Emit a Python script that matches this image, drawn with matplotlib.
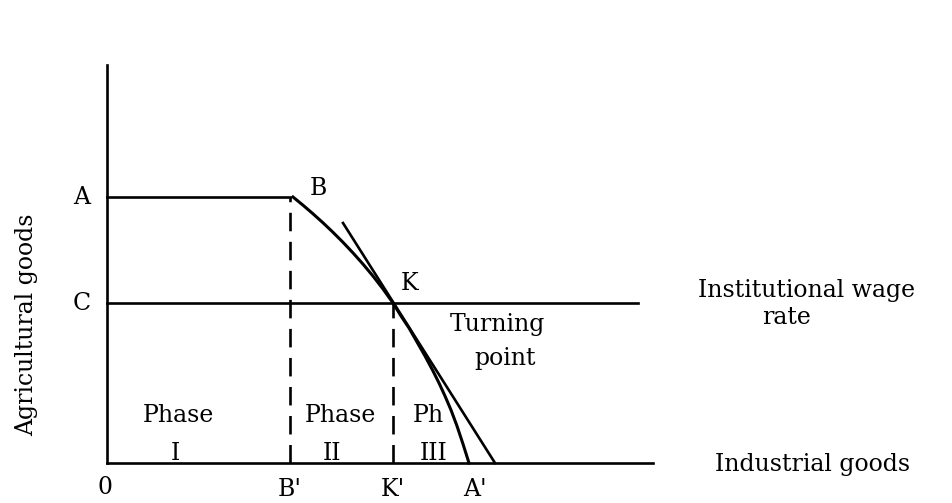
import matplotlib
matplotlib.use("Agg")
import matplotlib.pyplot as plt

# data units: origin at the corner of the axes, roughly one unit per pixel
y_top = 398
x_end = 546
c_end = 531
level_A = 266
level_C = 160
x_Bp = 183
x_Kp = 286

# production frontier from B through K to A'
curve_x = [186, 196, 206, 216, 226, 236, 246, 256, 266, 276, 286,
           294, 302, 310, 318, 326, 332, 338, 344, 350, 356, 362]
curve_y = [266, 257.8, 249.2, 240.2, 230.7, 220.7, 210.1, 198.9, 186.9, 174, 160,
           147, 135, 121, 107, 92, 80, 67, 53, 37, 19, 0]

# tangent at K
tangent_x = [236, 388]
tangent_y = [240, 0]

FONT = "DejaVu Serif"
FS = 17
LW = 1.9

fig = plt.figure(figsize=(9.53, 5.03), dpi=100)
ax = fig.add_axes([0, 0, 1, 1])
ax.set_xlim(-107, 846)
ax.set_ylim(-40, 463)
ax.axis("off")

# axes
ax.plot([0, 0], [0, y_top], color="black", lw=LW)
ax.plot([0, x_end], [0, 0], color="black", lw=LW)

# A-B and institutional wage line
ax.plot([0, x_Bp], [level_A, level_A], color="black", lw=LW)
ax.plot([0, c_end], [level_C, level_C], color="black", lw=LW)

# dashed verticals
ax.plot([x_Bp, x_Bp], [0, level_A], color="black", lw=LW, dashes=(7, 4))
ax.plot([x_Kp, x_Kp], [0, level_C], color="black", lw=LW, dashes=(7, 4))

ax.plot(curve_x, curve_y, color="black", lw=LW * 1.15, solid_joinstyle="round")
ax.plot(tangent_x, tangent_y, color="black", lw=LW)

txt = dict(fontsize=FS, family=FONT, ha="center", va="center")
ax.text(-25, level_A, "A", **txt)
ax.text(-25, level_C, "C", **txt)
ax.text(211, 275, "B", **txt)
ax.text(303, 179, "K", **txt)
ax.text(390, 138, "Turning", **txt)
ax.text(398, 105, "point", **txt)

ax.text(71, 48, "Phase", **txt)
ax.text(68, 10, "I", **txt)
ax.text(233, 48, "Phase", **txt)
ax.text(225, 10, "II", **txt)
ax.text(321, 48, "Ph", **txt)
ax.text(327, 10, "III", **txt)

ax.text(-2, -25, "0", **txt)
ax.text(x_Bp, -27, "B'", **txt)
ax.text(x_Kp, -27, "K'", **txt)
ax.text(368, -27, "A'", **txt)

ax.text(700, 173, "Institutional wage", **txt)
ax.text(680, 145, "rate", **txt)
ax.text(706, -2, "Industrial goods", **txt)
ax.text(-80, 138, "Agricultural goods", rotation=90, **txt)

fig.savefig("out.png", dpi=100, facecolor="white")
